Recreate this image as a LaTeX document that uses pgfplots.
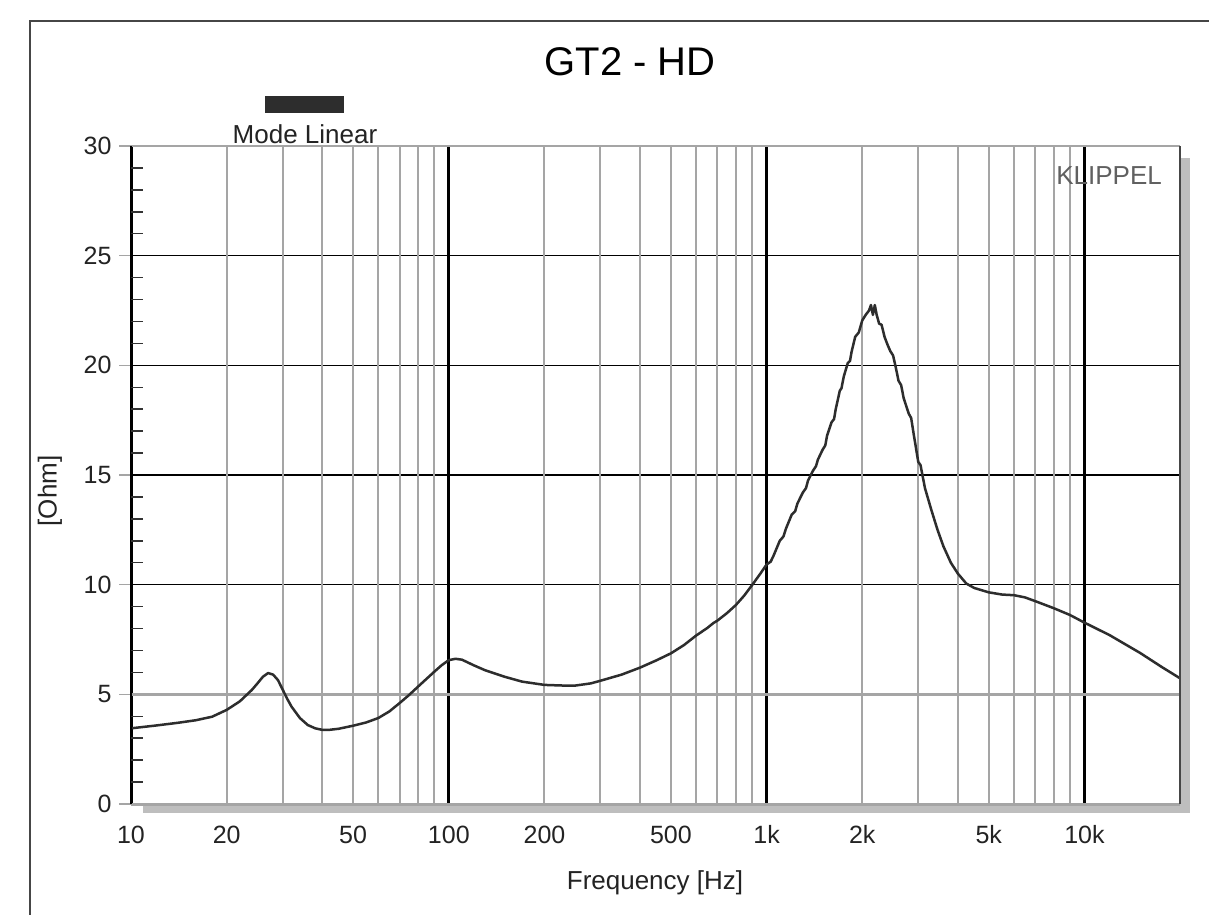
\documentclass[border=0pt]{standalone}
\usepackage{fontspec}
\setmainfont{Liberation Sans}
\usepackage{pgfplots}
\pgfplotsset{compat=1.18}
\definecolor{gridgray}{RGB}{165,165,165}
\definecolor{curve}{RGB}{45,45,45}
\definecolor{shadow}{RGB}{190,190,190}
\definecolor{frame}{RGB}{70,70,70}
\definecolor{txt}{RGB}{35,35,35}

\begin{document}
\begin{tikzpicture}
% picture = 1209 x 914 px, axis south west at (131,804) px
\path[use as bounding box] (-131pt,-110pt) rectangle (1078pt,804pt);
\fill[white] (-131pt,-110pt) rectangle (1078pt,804pt);
\fill[shadow] (12pt,-9pt) rectangle (1059pt,0pt);
\fill[shadow] (1049pt,-9pt) rectangle (1059pt,646pt);
\draw[frame, line width=2pt] (-101pt,-115pt) -- (-101pt,783pt) -- (1085pt,783pt);

\begin{axis}[
  at={(0pt,0pt)}, anchor=south west,
  scale only axis, width=1049pt, height=658pt,
  xmode=log, xmin=10, xmax=20000, ymin=0, ymax=30,
  axis line style={draw=none},
  axis background/.style={fill=white},
  clip mode=individual,
  font=\fontsize{25}{30}\selectfont,
  /pgf/number format/assume math mode=true,
  every tick label/.append style={text=txt},
  xtick={10,100,1000,10000}, xticklabels={10,100,1k,10k},
  xmajorgrids, major x grid style={black, line width=3pt},
  extra x ticks={20,30,40,50,60,70,80,90,200,300,400,500,600,700,800,900,2000,3000,4000,5000,6000,7000,8000,9000},
  extra x tick labels={20,,,50,,,,,200,,,500,,,,,2k,,,5k,,,,},
  extra x tick style={grid=major, major x grid style={gridgray, line width=2pt}},
  xtick style={draw=none},
  xticklabel style={yshift=-6pt},
  ytick={10,15,20,25}, yticklabels={10,15,20,25},
  ymajorgrids, major y grid style={black, line width=1.5pt},
  extra y ticks={0,5,30}, extra y tick labels={0,5,30},
  extra y tick style={grid=major, major y grid style={gridgray, line width=2.5pt}},
  ytick style={gridgray, line width=1.5pt},
  major tick length=12pt, tick align=outside, ytick pos=left,
  yticklabel style={xshift=-4pt},
  title={GT2 - HD},
  title style={at={(axis description cs:0.4757,1.1185)}, anchor=center, font=\fontsize{40}{46}\selectfont},
  xlabel={Frequency [Hz]},
  xlabel style={at={(axis description cs:0.4995,-0.120)}, anchor=center, font=\fontsize{26}{30}\selectfont, text=txt},
  ylabel={[Ohm]},
  ylabel style={at={(axis description cs:-0.0772,0.4757)}, anchor=center, rotate=0, font=\fontsize{26}{30}\selectfont, text=txt},
]
\addplot[curve, line width=2.5pt, line join=round] coordinates {
(10,3.45) (12,3.58) (14,3.70) (16,3.82) (18,3.98) (20,4.29) (22,4.68) (24,5.20)
(25,5.50) (26,5.80) (27,5.97) (28,5.90) (29,5.65) (30,5.22) (31,4.80) (32,4.44)
(34,3.92) (36,3.60) (38,3.45) (40,3.38) (42,3.38) (45,3.43) (50,3.57) (55,3.72)
(60,3.92) (65,4.22) (70,4.60) (75,4.97) (80,5.35) (85,5.70) (90,6.03) (95,6.33)
(100,6.56) (105,6.62) (110,6.58) (120,6.32) (130,6.10) (150,5.80) (170,5.58)
(200,5.43) (230,5.40) (250,5.40) (280,5.50) (300,5.62) (350,5.90) (400,6.22)
(450,6.55) (500,6.87) (550,7.25) (600,7.68) (650,8.02) (680,8.25) (700,8.36) (750,8.70)
(800,9.07) (850,9.50) (900,9.98) (950,10.45) (1000,10.92) (1030,11.05) (1050,11.30) (1100,12.0)
(1130,12.2) (1150,12.55) (1200,13.2) (1230,13.35) (1250,13.70) (1300,14.2) (1330,14.4) (1350,14.75) (1400,15.2)
(1430,15.4) (1450,15.7) (1500,16.15) (1530,16.35) (1550,16.8) (1600,17.4) (1630,17.55) (1650,18.0) (1700,18.85)
(1720,18.95) (1750,19.5) (1800,20.1) (1830,20.2) (1850,20.6) (1900,21.3) (1950,21.5) (2000,22.05)
(2050,22.3) (2100,22.5) (2130,22.75) (2160,22.3) (2190,22.75) (2220,22.3)
(2260,21.9) (2300,21.85) (2350,21.3) (2400,20.95) (2450,20.65) (2500,20.45)
(2550,19.9) (2600,19.3) (2650,19.1) (2700,18.5) (2800,17.8) (2850,17.6) (2900,16.9) (3000,15.6)
(3050,15.45) (3150,14.4) (3300,13.4) (3450,12.5) (3600,11.75) (3800,11.0) (4000,10.5)
(4250,10.05) (4500,9.85) (5000,9.65) (5500,9.55) (6000,9.52) (6500,9.42)
(7000,9.25) (8000,8.93) (9000,8.62) (10000,8.27) (12000,7.70) (15000,6.88)
(17500,6.25) (20000,5.73)
};
\draw[gridgray, line width=2pt] (rel axis cs:0,1) -- (rel axis cs:1,1);
\draw[gridgray, line width=3pt] (rel axis cs:0,0) -- (rel axis cs:1,0);
\draw[frame, line width=1.5pt] (rel axis cs:1,0) -- (rel axis cs:1,1);
\draw[black, line width=2.5pt] (rel axis cs:0,0) -- (rel axis cs:0,1);
\node[text=gray!75!black, font=\fontsize{26}{30}\selectfont] at (axis description cs:0.9323,0.9544) {KLIPPEL};
\end{axis}

% inner minor ticks on the left axis
\begin{axis}[
  at={(0pt,0pt)}, anchor=south west,
  scale only axis, width=1049pt, height=658pt,
  xmode=log, xmin=10, xmax=20000, ymin=0, ymax=30,
  axis line style={draw=none},
  xtick=\empty,
  ytick={1,2,3,4,6,7,8,9,11,12,13,14,16,17,18,19,21,22,23,24,26,27,28,29},
  yticklabels={},
  tick align=inside, ytick pos=left, major tick length=12pt,
  ytick style={black!80, line width=1.5pt},
]
\end{axis}

\fill[curve] (134pt,691pt) rectangle (213pt,708pt);
\node[text=txt, font=\fontsize{26}{30}\selectfont] at (174pt,670pt) {Mode Linear};
\end{tikzpicture}
\end{document}
